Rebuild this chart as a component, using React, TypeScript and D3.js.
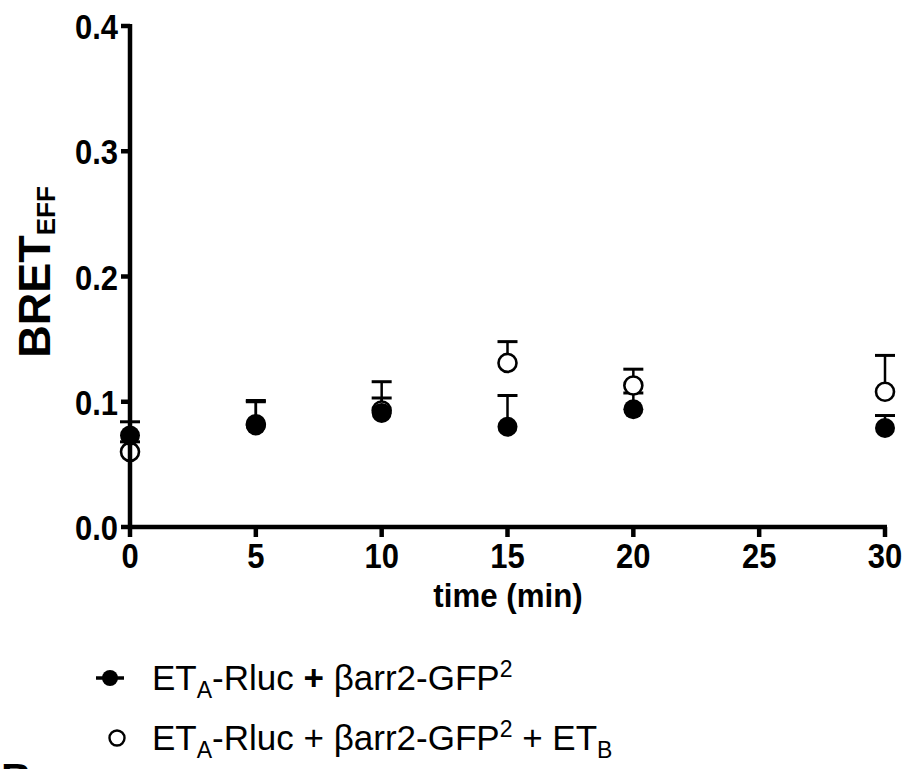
import React from "react";
import * as d3 from "d3";

const times = [0, 5, 10, 15, 20, 30];
const filledMean = [0.073, 0.081, 0.091, 0.080, 0.094, 0.079];
const filledErr = [0.011, 0.020, 0.012, 0.025, 0.013, 0.010];
const openMean = [0.060, 0.082, 0.093, 0.131, 0.113, 0.108];
const openErr = [0.008, 0.018, 0.023, 0.017, 0.013, 0.029];
const xTicks = [0, 5, 10, 15, 20, 25, 30];
const yTicks = [0, 0.1, 0.2, 0.3, 0.4];

const W = 909;
const H = 769;
const FONT = "'Liberation Sans', Arial, sans-serif";
const SQ = 0.86;

export default function App() {
  const x = d3.scaleLinear().domain([0, 30]).range([130, 885]);
  const y = d3.scaleLinear().domain([0, 0.4]).range([527, 26]);
  const capW = 10;

  const errBars = (means: number[], errs: number[], key: string) =>
    times.map((t, i) => {
      const cx = x(t);
      const y0 = y(means[i]);
      const y1 = y(means[i] + errs[i]);
      return (
        <g key={key + i}>
          <line x1={cx} x2={cx} y1={y0} y2={y1} stroke="#000" strokeWidth={2.5} />
          <line x1={cx - capW} x2={cx + capW} y1={y1} y2={y1} stroke="#000" strokeWidth={3} />
        </g>
      );
    });

  return (
    <svg width={W} height={H} style={{ position: "absolute", left: 0, top: 0, background: "#fff" }} fontFamily={FONT}>
      <rect width={W} height={H} fill="#fff" />
      {errBars(openMean, openErr, "oe")}
      {errBars(filledMean, filledErr, "fe")}
      {times.map((t, i) => (
        <circle key={"o" + i} cx={x(t)} cy={y(openMean[i])} r={9} fill="#fff" stroke="#000" strokeWidth={2.6} />
      ))}
      {times.map((t, i) => (
        <circle key={"f" + i} cx={x(t)} cy={y(filledMean[i])} r={10} fill="#000" />
      ))}
      <line x1={x(0)} x2={x(0)} y1={y(0.4) - 2} y2={y(0) + 2} stroke="#000" strokeWidth={4.5} />
      <line x1={x(0) - 2} x2={x(30) + 2} y1={y(0)} y2={y(0)} stroke="#000" strokeWidth={4.5} />
      {yTicks.map((v) => (
        <g key={"yt" + v}>
          <line x1={x(0) - 9} x2={x(0)} y1={y(v)} y2={y(v)} stroke="#000" strokeWidth={4.5} />
          <text
            transform={`translate(${x(0) - 12},${y(v) + 13}) scale(${SQ},1)`}
            fontSize={36}
            fontWeight="bold"
            textAnchor="end"
          >
            {v.toFixed(1)}
          </text>
        </g>
      ))}
      {xTicks.map((v) => (
        <g key={"xt" + v}>
          <line x1={x(v)} x2={x(v)} y1={y(0)} y2={y(0) + 10} stroke="#000" strokeWidth={4.5} />
          <text
            transform={`translate(${x(v)},568) scale(${SQ},1)`}
            fontSize={36}
            fontWeight="bold"
            textAnchor="middle"
          >
            {v}
          </text>
        </g>
      ))}
      <text transform={`translate(508,607) scale(0.92,1)`} fontSize={34} fontWeight="bold" textAnchor="middle">
        time (min)
      </text>
      <text transform="translate(50,272) rotate(-90)" fontSize={45} fontWeight="bold" textAnchor="middle">
        BRET<tspan fontSize={26} dy={5}>EFF</tspan>
      </text>
      {/* legend */}
      <line x1={96} x2={124} y1={678} y2={678} stroke="#000" strokeWidth={3.5} />
      <circle cx={110} cy={678} r={8} fill="#000" />
      <circle cx={117} cy={738} r={7.5} fill="#fff" stroke="#000" strokeWidth={2.4} />
      <text x={152} y={690} fontSize={35}>
        ET<tspan fontSize={23} dy={8}>A</tspan>
        <tspan dy={-8}>-Rluc </tspan>
        <tspan fontWeight="bold">+</tspan>
        <tspan> βarr2-GFP</tspan>
        <tspan fontSize={23} dy={-13}>2</tspan>
      </text>
      <text x={152} y={750} fontSize={35}>
        ET<tspan fontSize={23} dy={8}>A</tspan>
        <tspan dy={-8}>-Rluc + βarr2-GFP</tspan>
        <tspan fontSize={23} dy={-13}>2</tspan>
        <tspan dy={13}> + ET</tspan>
        <tspan fontSize={23} dy={8}>B</tspan>
      </text>
      <text x={1} y={793} fontSize={42} fontWeight="bold">B</text>
    </svg>
  );
}
